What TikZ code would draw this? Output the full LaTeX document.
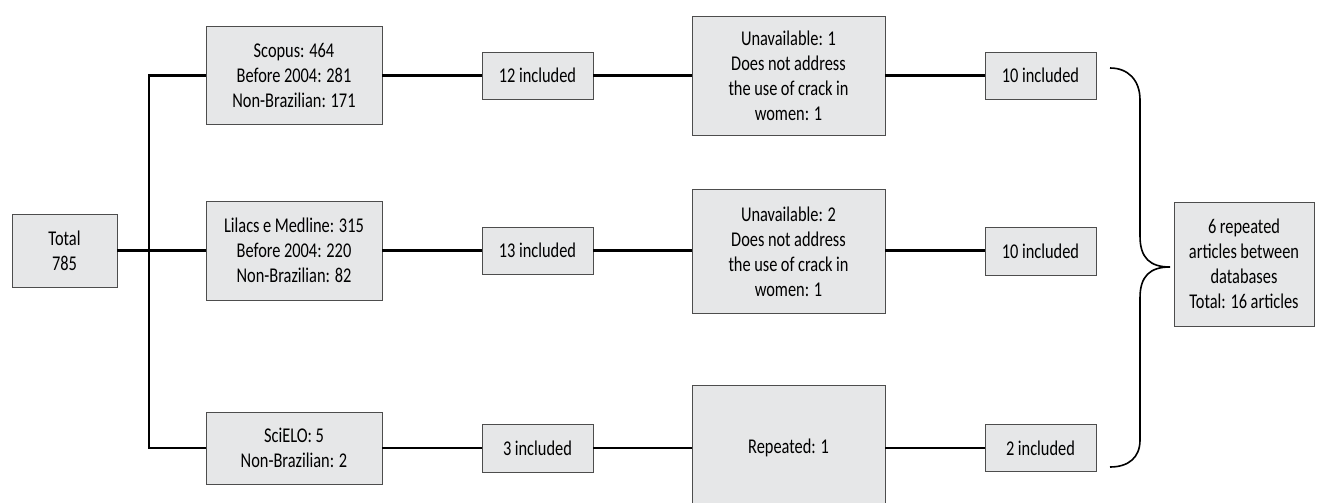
\documentclass[tikz,border=0pt]{standalone}
\usepackage{fontspec}
\setmainfont{Carlito}[FakeStretch=0.78, WordSpace=0.95]
\definecolor{boxgray}{HTML}{E6E7E8}
\definecolor{edgegray}{HTML}{4D4D4D}
\begin{document}
\begin{tikzpicture}[x=1pt,y=-1pt,
    box/.style={draw=edgegray, line width=0.9pt, fill=boxgray, align=center, inner sep=0pt,
        font=\fontsize{21}{25}\selectfont},
    link/.style={line width=2.4pt, black}]
    \useasboundingbox (0,0) rectangle (1317,503);
    % Start and trunk
    \node[box, minimum width=105, minimum height=73] (total) at (64.5,250.5) {Total\\785};
    \coordinate (trunk) at (149,250);
    % First row
    \node[box, minimum width=176, minimum height=98] (scopus) at (294,75.5) {Scopus: 464\\Before 2004: 281\\Non-Brazilian: 171};
    \node[box, minimum width=111, minimum height=47] (inc12) at (537.5,75.5) {12 included};
    \node[box, minimum width=193, minimum height=119] (unav1) at (788.5,75.5) {Unavailable: 1\\Does not address\\the use of crack in\\women: 1};
    \node[box, minimum width=111, minimum height=47] (inc10a) at (1040.5,75.5) {10 included};
    % Second row
    \node[box, minimum width=176, minimum height=99] (lilacs) at (294,250.5) {Lilacs e Medline: 315\\Before 2004: 220\\Non-Brazilian: 82};
    \node[box, minimum width=111, minimum height=47] (inc13) at (537.5,250.5) {13 included};
    \node[box, minimum width=193, minimum height=124] (unav2) at (788.5,251.5) {Unavailable: 2\\Does not address\\the use of crack in\\women: 1};
    \node[box, minimum width=111, minimum height=48] (inc10b) at (1040.5,251.5) {10 included};
    % Third row
    \node[box, minimum width=176, minimum height=72] (scielo) at (294,448) {SciELO: 5\\Non-Brazilian: 2};
    \node[box, minimum width=111, minimum height=48] (inc3) at (537.5,448) {3 included};
    \node[box, minimum width=193, minimum height=126] (rep) at (788.5,448) {Repeated: 1};
    \node[box, minimum width=111, minimum height=47] (inc2) at (1040.5,448) {2 included};
    % Result
    \node[box, minimum width=140, minimum height=124] (final) at (1244,264) {6 repeated\\articles between\\databases\\Total: 16 articles};
    % Connectors
    \draw[link] (total.east) -- (lilacs.west);
    \draw[link] (scopus.west) -- (scopus.west -| trunk) -- (scielo.west -| trunk) -- (scielo.west);
    \draw[link] (scopus) -- (inc12) -- (unav1) -- (inc10a);
    \draw[link] (lilacs) -- (inc13) -- (inc13 -| unav2.west);
    \draw[link] (unav2.east |- inc13) -- (inc10b.west |- inc13);
    \draw[link] (scielo) -- (inc3) -- (rep) -- (inc2);
    % Brace
    \draw[line width=1.6pt] (1110,68) .. controls (1128,68) and (1140,80) .. (1140,100)
        -- (1140,236) .. controls (1140,258) and (1150,267) .. (1170,267)
        .. controls (1150,267) and (1140,276) .. (1140,298)
        -- (1140,440) .. controls (1140,458) and (1128,467) .. (1110,467);
\end{tikzpicture}
\end{document}
